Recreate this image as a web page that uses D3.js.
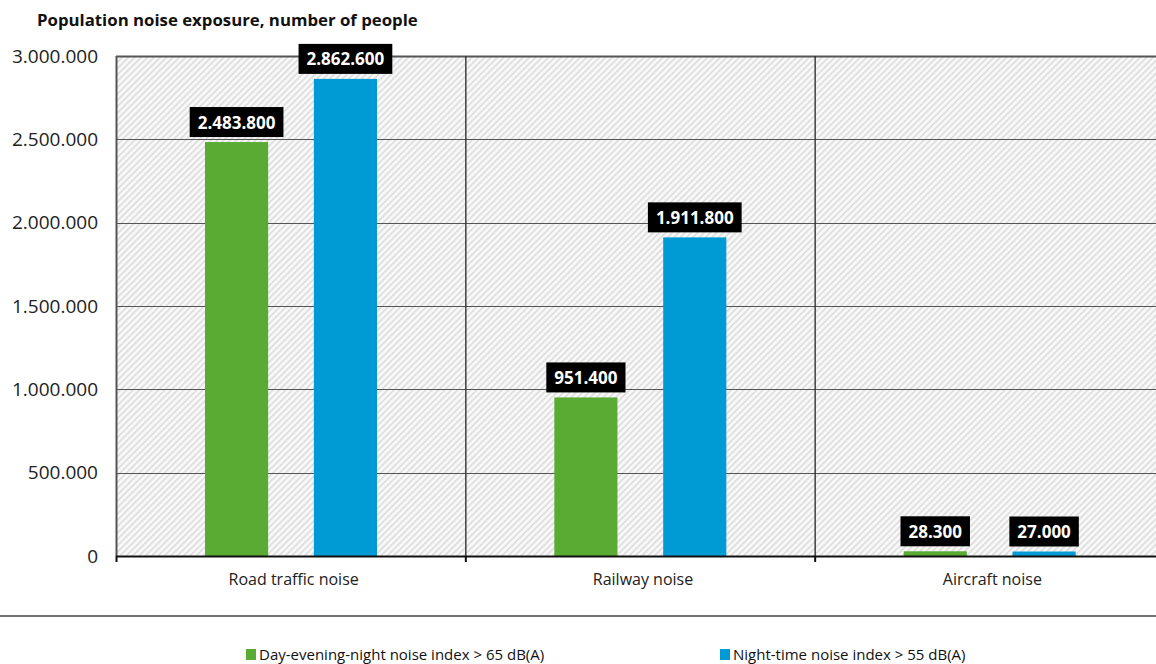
<!DOCTYPE html>
<html><head><meta charset="utf-8">
<script src="https://cdn.jsdelivr.net/npm/d3@7"></script>
<style>
body{margin:0;background:#fff;overflow:hidden}
svg{display:block;font-family:"Open Sans","Noto Sans",sans-serif}
</style></head>
<body>
<svg id="chart" width="1156" height="664"></svg>
<script>
const categories = ["Road traffic noise", "Railway noise", "Aircraft noise"];
const seriesNames = ["Day-evening-night noise index > 65 dB(A)", "Night-time noise index > 55 dB(A)"];
const denValues = [2483800, 951400, 28300];
const nightValues = [2862600, 1911800, 27000];
const yTicks = [0, 500000, 1000000, 1500000, 2000000, 2500000, 3000000];
const colors = ["#5aab34", "#009bd4"];

const loc = d3.formatLocale({decimal: ",", thousands: ".", grouping: [3], currency: ["", ""]});
const fmt = loc.format(",d");

const svg = d3.select("#chart");
const m = {left: 116, top: 56, right: 1164, bottom: 556};

const defs = svg.append("defs");
const pat = defs.append("pattern").attr("id", "hatch").attr("patternUnits", "userSpaceOnUse")
  .attr("width", 4.5).attr("height", 4.5).attr("patternTransform", "rotate(45)");
pat.append("rect").attr("width", 4.5).attr("height", 4.5).attr("fill", "#f8f8f8");
pat.append("rect").attr("width", 1.6).attr("height", 4.5).attr("fill", "#dcdcdc");

const x0 = d3.scaleBand().domain(categories).range([m.left, m.right]).paddingInner(0).paddingOuter(0);
const x1 = d3.scaleBand().domain([0, 1]).range([89, 261]).paddingInner(0.42).paddingOuter(0);
const y = d3.scaleLinear().domain([0, 3000000]).range([m.bottom, m.top]);

svg.append("rect").attr("x", m.left).attr("y", m.top).attr("width", m.right - m.left).attr("height", m.bottom - m.top).attr("fill", "url(#hatch)");

// horizontal gridlines
svg.append("g").selectAll("line").data(yTicks.filter(d => d > 0)).join("line")
  .attr("x1", m.left).attr("x2", m.right).attr("y1", d => Math.round(y(d)) + 0.5).attr("y2", d => Math.round(y(d)) + 0.5)
  .attr("stroke", "#555").attr("stroke-width", d => d === 3000000 ? 2 : 1.2);

// vertical separators
const seps = categories.map(c => x0(c));
svg.append("g").selectAll("line").data(seps).join("line")
  .attr("x1", d => d + 0.5).attr("x2", d => d + 0.5).attr("y1", m.top).attr("y2", m.bottom)
  .attr("stroke", d => d === m.left ? "#555" : "#333").attr("stroke-width", d => d === m.left ? 2 : 1.4);

// y tick labels
svg.append("g").selectAll("text").data(yTicks).join("text")
  .attr("x", 98).attr("y", d => y(d)).attr("dy", "0.35em").attr("text-anchor", "end")
  .attr("font-size", 19).attr("fill", "#222").text(d => fmt(d));

// bars
const data = categories.map((c, i) => ({c, vals: [denValues[i], nightValues[i]]}));
const groups = svg.append("g").selectAll("g").data(data).join("g").attr("transform", d => `translate(${x0(d.c)},0)`);
groups.selectAll("rect").data(d => d.vals.map((v, k) => ({v, k}))).join("rect")
  .attr("x", d => x1(d.k)).attr("width", x1.bandwidth())
  .attr("y", d => y(d.v)).attr("height", d => m.bottom - y(d.v)).attr("fill", d => colors[d.k]);

// labels
groups.each(function(d) {
  const g = d3.select(this);
  d.vals.forEach((v, k) => {
    const cx = x1(k) + x1.bandwidth() / 2;
    const yTop = y(v) - 5;
    const t = g.append("text").attr("x", cx).attr("y", yTop - 8.5).attr("text-anchor", "middle")
      .attr("font-size", 17).attr("font-weight", "bold").attr("fill", "#fff").text(fmt(v));
    const w = t.node().getComputedTextLength();
    g.insert("rect", "text").attr("x", cx - w / 2 - 8).attr("y", yTop - 30).attr("width", w + 16).attr("height", 30).attr("fill", "#000");
  });
});
groups.selectAll("text").raise();

// baseline
svg.append("line").attr("x1", m.left).attr("x2", m.right).attr("y1", m.bottom + 0.5).attr("y2", m.bottom + 0.5).attr("stroke", "#111").attr("stroke-width", 2);
svg.append("g").selectAll("line").data(seps).join("line")
  .attr("x1", d => d + 0.5).attr("x2", d => d + 0.5).attr("y1", m.bottom).attr("y2", m.bottom + 6)
  .attr("stroke", "#111").attr("stroke-width", 2);

// category labels
svg.append("g").selectAll("text").data(categories).join("text")
  .attr("x", d => x0(d) + x0.bandwidth() / 2 + 3).attr("y", 585).attr("text-anchor", "middle")
  .attr("font-size", 16).attr("fill", "#222").text(d => d);

// separator line
svg.append("line").attr("x1", 0).attr("x2", 1156).attr("y1", 616).attr("y2", 616).attr("stroke", "#444").attr("stroke-width", 1.5);

// title
svg.append("text").attr("x", 37).attr("y", 26).attr("font-size", 16.8).attr("font-weight", "bold").attr("fill", "#111")
  .text("Population noise exposure, number of people");

// legend
const legX = [246, 720];
seriesNames.forEach((s, i) => {
  svg.append("rect").attr("x", legX[i]).attr("y", 649).attr("width", 10).attr("height", 11).attr("fill", colors[i]);
  svg.append("text").attr("x", legX[i] + 13).attr("y", 660).attr("font-size", 15).attr("fill", "#111")
    .text(s);
});
</script>
</body></html>
